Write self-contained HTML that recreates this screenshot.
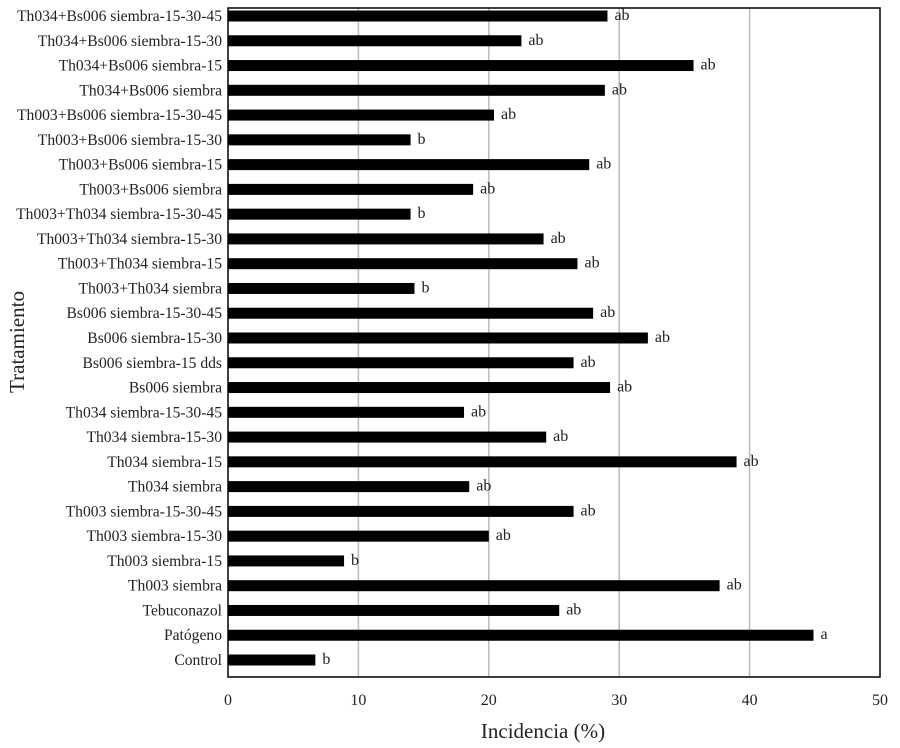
<!DOCTYPE html>
<html><head><meta charset="utf-8"><style>
body{margin:0;background:#fff;}
svg text{font-family:"Liberation Serif",serif;fill:#222;}
</style></head><body>
<svg id="chart" width="900" height="743" xmlns="http://www.w3.org/2000/svg"></svg>
<script>
const categories=["Th034+Bs006 siembra-15-30-45","Th034+Bs006 siembra-15-30","Th034+Bs006 siembra-15","Th034+Bs006 siembra","Th003+Bs006 siembra-15-30-45","Th003+Bs006 siembra-15-30","Th003+Bs006 siembra-15","Th003+Bs006 siembra","Th003+Th034 siembra-15-30-45","Th003+Th034 siembra-15-30","Th003+Th034 siembra-15","Th003+Th034 siembra","Bs006 siembra-15-30-45","Bs006 siembra-15-30","Bs006 siembra-15 dds","Bs006 siembra","Th034 siembra-15-30-45","Th034 siembra-15-30","Th034 siembra-15","Th034 siembra","Th003 siembra-15-30-45","Th003 siembra-15-30","Th003 siembra-15","Th003 siembra","Tebuconazol","Patógeno","Control"];
const values=[29.1,22.5,35.7,28.9,20.4,14.0,27.7,18.8,14.0,24.2,26.8,14.3,28.0,32.2,26.5,29.3,18.1,24.4,39.0,18.5,26.5,20.0,8.9,37.7,25.4,44.9,6.7];
const letters=["ab","ab","ab","ab","ab","b","ab","ab","b","ab","ab","b","ab","ab","ab","ab","ab","ab","ab","ab","ab","ab","b","ab","ab","a","b"];
const xTicks=[0,10,20,30,40,50];
const NS="http://www.w3.org/2000/svg";
const svg=document.getElementById('chart');
const L=228,R=880,T=8,B=677,xMax=50;
const x=v=>L+(R-L)*v/xMax;
const y0=16,step=(660-16)/26;
const y=i=>y0+i*step;
function mk(tag,a,txt){const e=document.createElementNS(NS,tag);for(const k in a)e.setAttribute(k,a[k]);if(txt!==undefined)e.textContent=txt;svg.appendChild(e);return e;}
xTicks.forEach(t=>{
  if(t>0&&t<xMax){const g=mk('line',{x1:x(t),x2:x(t),y1:T,y2:B,stroke:'#bbb','stroke-width':1.5});
  
  }
  const tl=mk('text',{x:x(t),y:705,'font-size':16,'text-anchor':'middle'},t);
  
  
});
categories.forEach((c,i)=>{
  const b=mk('rect',{x:L,y:y(i)-5.5,width:x(values[i])-L,height:11,fill:'#000'});
  
  
  const l=mk('text',{x:x(values[i])+7,y:y(i)+4,'font-size':16},letters[i]);
  
  
  const cl=mk('text',{x:222,y:y(i)+5,'font-size':15.6,'text-anchor':'end'},c);
  
  
});
const f=mk('rect',{x:L,y:T,width:R-L,height:B-T,fill:'none',stroke:'#000','stroke-width':1.5});


const xt=mk('text',{x:543,y:738,'font-size':21,'text-anchor':'middle'},'Incidencia (%)');


const yt=mk('text',{x:0,y:0,'font-size':21,'text-anchor':'middle',transform:'translate(24,342) rotate(-90)'},'Tratamiento');


</script>
</body></html>
